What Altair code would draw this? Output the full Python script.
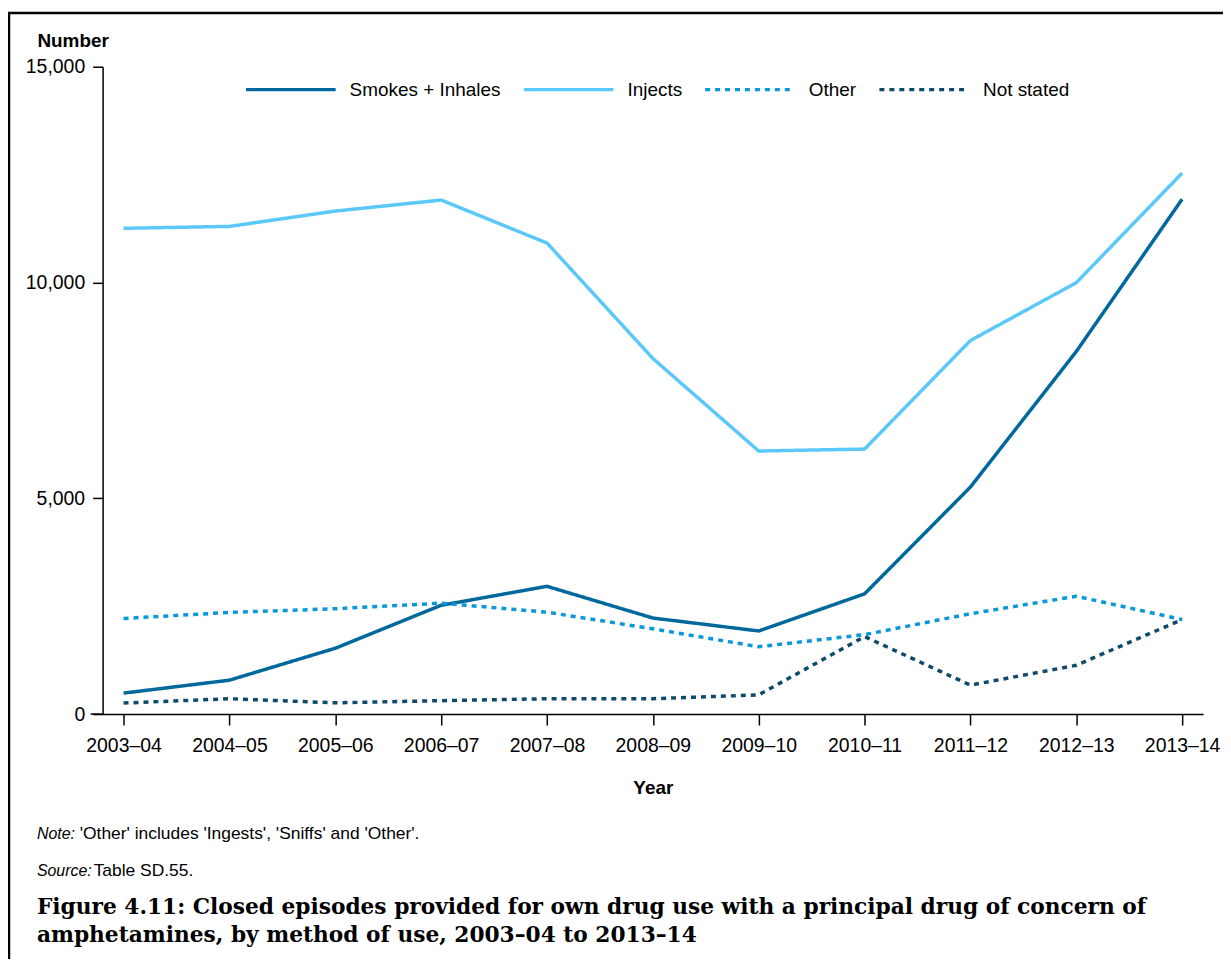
import altair as alt
import pandas as pd

years = ["2003–04", "2004–05", "2005–06", "2006–07", "2007–08", "2008–09",
         "2009–10", "2010–11", "2011–12", "2012–13", "2013–14"]
smokes = [485, 785, 1525, 2520, 2960, 2225, 1925, 2785, 5260, 8400, 11930]
injects = [11255, 11300, 11655, 11910, 10915, 8240, 6095, 6140, 8655, 9995, 12535]
other = [2215, 2355, 2440, 2570, 2360, 1975, 1560, 1840, 2325, 2730, 2190]
not_stated = [255, 355, 260, 310, 355, 355, 445, 1795, 670, 1130, 2190]

series_names = ["Smokes + Inhales", "Injects", "Other", "Not stated"]
series_values = [smokes, injects, other, not_stated]
series_colors = ["#00689C", "#5BC8FA", "#0B97DC", "#0F4A6A"]
series_dash = [[1, 0], [1, 0], [5, 5], [5, 5]]

rows = []
for name, vals in zip(series_names, series_values):
    for y, v in zip(years, vals):
        rows.append({"year": y, "value": v, "method": name})
df = pd.DataFrame(rows)

FONT = "Liberation Sans"
W, H = 1105, 650

lines = alt.Chart(df).mark_line(strokeWidth=3.5, strokeCap="butt").encode(
    x=alt.X("year:O", sort=years,
            scale=alt.Scale(type="point", padding=0.198),
            axis=alt.Axis(title="Year", labelAngle=0, labelFont=FONT, labelFontSize=19.5,
                          labelColor="black", labelPadding=12, tickSize=11, tickWidth=1.5,
                          tickColor="black", domainColor="black", domainWidth=1.5,
                          titleFont=FONT, titleFontSize=19, titleFontWeight="bold",
                          titleColor="black", titlePadding=23)),
    y=alt.Y("value:Q", scale=alt.Scale(domain=[0, 15000], nice=False),
            axis=alt.Axis(values=[0, 5000, 10000, 15000], format=",d", grid=False,
                          labelFont=FONT, labelFontSize=19.5, labelColor="black",
                          labelPadding=8, tickSize=10, tickWidth=1.5, tickColor="black",
                          domainColor="black", domainWidth=1.5,
                          title="Number", titleAngle=0, titleAlign="left",
                          titleBaseline="alphabetic", titleX=-66, titleY=-20,
                          titleFont=FONT, titleFontSize=19, titleFontWeight="bold",
                          titleColor="black")),
    color=alt.Color("method:N", sort=series_names,
                    scale=alt.Scale(domain=series_names, range=series_colors),
                    legend=alt.Legend(title=None, orient="none", legendX=142, legendY=-24,
                                      direction="horizontal", symbolType="stroke",
                                      symbolSize=8100, symbolStrokeWidth=3.5,
                                      labelFont=FONT, labelFontSize=19, labelColor="black",
                                      labelOffset=12, columnPadding=16, labelLimit=300)),
    strokeDash=alt.StrokeDash("method:N", sort=series_names,
                              scale=alt.Scale(domain=series_names, range=series_dash),
                              legend=None),
)

one = pd.DataFrame({"a": [0]})

border_top = alt.Chart(one).mark_rule(color="black", strokeWidth=2.5).encode(
    x=alt.value(-95), x2=alt.value(W + 30), y=alt.value(-54))
border_left = alt.Chart(one).mark_rule(color="black", strokeWidth=2.5).encode(
    x=alt.value(-94), y=alt.value(-55), y2=alt.value(H + 260))
axis_ext = alt.Chart(one).mark_rule(color="black", strokeWidth=1.5).encode(
    x=alt.value(-12), x2=alt.value(0), y=alt.value(H))


def txt(s, x, y, size=16, style="normal", weight="normal", font=FONT):
    return alt.Chart(one).mark_text(text=s, align="left", baseline="alphabetic",
                                    font=font, fontSize=size, fontStyle=style,
                                    fontWeight=weight, color="black").encode(
        x=alt.value(x), y=alt.value(y))


texts = [
    txt("Note:", -66, 775, size=16, style="italic"),
    txt("'Other' includes 'Ingests', 'Sniffs' and 'Other'.", -23, 775, size=17.5),
    txt("Source:", -66, 813, size=16, style="italic"),
    txt("Table SD.55.", -9, 813, size=17.5),
    txt("Figure 4.11: Closed episodes provided for own drug use with a principal drug of concern of",
        -66, 851, size=21.8, weight="bold", font="DejaVu Serif"),
    txt("amphetamines, by method of use, 2003–04 to 2013–14",
        -66, 879, size=21.8, weight="bold", font="DejaVu Serif"),
]

chart = alt.layer(lines, border_top, border_left, axis_ext, *texts).properties(
    width=W, height=H,
    padding={"left": 95, "top": 57, "right": 20, "bottom": 244},
    autosize=alt.AutoSizeParams(type="none"),
    background="white",
).configure_view(stroke=None)

chart.save("out.html", embed_options={"renderer": "svg", "actions": False})
